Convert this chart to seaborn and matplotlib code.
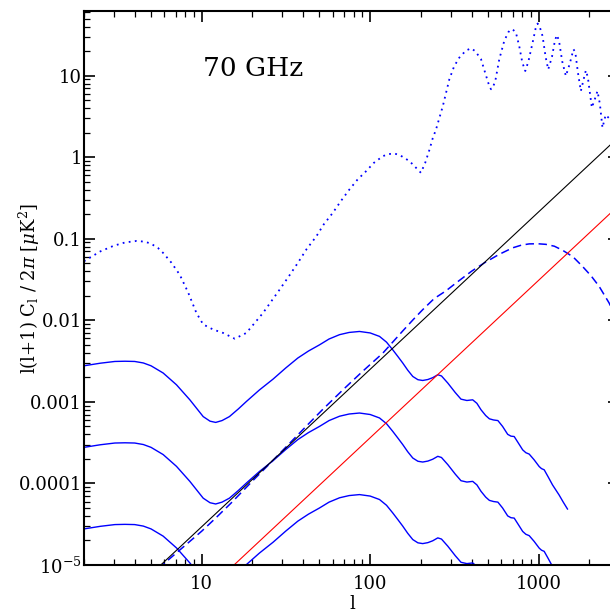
import matplotlib
matplotlib.use("Agg")
import matplotlib.pyplot as plt
import seaborn as sns
from matplotlib.ticker import LogLocator, NullFormatter

# ---------------- data ----------------
dotted_l = [2, 2.5, 3, 3.5, 4.1, 4.6, 5.0, 5.5, 5.9, 6.6, 7.4, 8.3, 9.3, 10.2, 11.7, 13.4,
            15.7, 18.4, 23.1, 29.0, 33, 37.2, 42, 47.9, 53, 60, 67, 75.3, 84, 94.6, 105,
            119, 128, 139, 150, 171, 185, 200, 212, 225, 235, 246, 270, 295, 315, 338,
            370, 397, 420, 455, 488, 510, 522, 535, 553, 584, 625, 660, 685, 710, 733,
            767, 800, 833, 870, 921, 960, 986, 1010, 1055, 1100, 1140, 1200, 1250, 1283,
            1320, 1380, 1451, 1530, 1610, 1650, 1710, 1781, 1850, 1907, 1960, 2070, 2160,
            2235, 2310, 2393, 2500, 2621, 3000]
dotted_v = [0.053, 0.070, 0.082, 0.090, 0.094, 0.092, 0.087, 0.077, 0.067, 0.051, 0.0363,
            0.022, 0.0123, 0.0089, 0.0077, 0.0070, 0.00595, 0.0070, 0.0123, 0.0238, 0.035,
            0.0506, 0.075, 0.107, 0.15, 0.208, 0.29, 0.402, 0.53, 0.674, 0.85, 1.03, 1.09,
            1.11, 1.06, 0.896, 0.76, 0.644, 0.85, 1.24, 1.7, 2.19, 4.24, 9.0, 13.0, 16.6,
            20.3, 21.6, 20.0, 15.9, 9.9, 7.4, 6.8, 7.2, 8.6, 15.9, 26.6, 34.0, 37.0, 36.0,
            33.7, 23.0, 14.5, 11.4, 15.0, 25.4, 38.0, 43.5, 41.0, 30.6, 17.0, 11.9, 17.0,
            27.0, 31.4, 27.0, 15.0, 9.9, 14.0, 21.0, 19.5, 11.0, 6.47, 9.0, 11.6, 9.5, 4.05,
            5.2, 6.47, 4.5, 2.30, 3.3, 3.0, 1.8]

dashed_l = [2, 4, 6, 8, 10, 12, 15, 20, 25, 30, 40, 52, 70, 90, 119, 156, 180, 205, 240,
            282, 324, 400, 476, 580, 700, 790, 879, 990, 1104, 1240, 1387, 1600, 1820,
            2050, 2286, 2621, 3000]
dashed_v = [1.2e-6, 4.6e-6, 1.05e-5, 1.75e-5, 2.6e-5, 3.7e-5, 5.8e-5, 1.07e-4, 1.7e-4,
            2.5e-4, 4.6e-4, 8.0e-4, 1.45e-3, 2.36e-3, 3.97e-3, 7.4e-3, 0.0102, 0.0135,
            0.0185, 0.023, 0.0288, 0.0400, 0.0506, 0.064, 0.0773, 0.0835, 0.0865, 0.0868,
            0.0854, 0.0810, 0.0723, 0.060, 0.0459, 0.0350, 0.0261, 0.0163, 0.009]

solid_l = [2, 2.5, 3.05, 3.5, 4.0, 4.5, 5.0, 5.9, 7.08, 8.5, 10.2, 11.2, 12.1, 13.2, 14.6,
           16.5, 18.4, 22, 26.5, 31.5, 37.2, 43, 50, 57, 65.8, 75, 86.4, 100, 113.6, 125,
           136, 146, 156, 167, 179, 192, 205, 220, 235, 252, 265, 289, 320, 346, 375, 406,
           430, 455, 485, 510, 540, 573, 611, 655, 685, 716, 760, 804, 840, 879, 940,
           1008, 1040, 1079, 1140, 1209, 1324, 1400, 1486]
solid_v = [2.77e-3, 2.98e-3, 3.13e-3, 3.15e-3, 3.13e-3, 3.0e-3, 2.77e-3, 2.26e-3, 1.62e-3,
           1.06e-3, 6.6e-4, 5.8e-4, 5.6e-4, 5.9e-4, 6.6e-4, 8.2e-4, 1.01e-3, 1.4e-3, 1.9e-3,
           2.6e-3, 3.45e-3, 4.2e-3, 5.0e-3, 5.9e-3, 6.67e-3, 7.1e-3, 7.3e-3, 7.0e-3, 6.35e-3,
           5.4e-3, 4.36e-3, 3.6e-3, 3.0e-3, 2.45e-3, 2.05e-3, 1.87e-3, 1.83e-3, 1.88e-3,
           1.98e-3, 2.15e-3, 2.08e-3, 1.70e-3, 1.30e-3, 1.08e-3, 1.04e-3, 1.06e-3, 9.6e-4,
           8.0e-4, 6.8e-4, 6.2e-4, 6.0e-4, 5.9e-4, 5.0e-4, 4.0e-4, 3.8e-4, 3.76e-4, 3.1e-4,
           2.58e-4, 2.38e-4, 2.29e-4, 1.95e-4, 1.61e-4, 1.52e-4, 1.47e-4, 1.2e-4, 9.6e-5,
           7.2e-5, 5.9e-5, 4.83e-5]
solid_scales = [1.0, 0.1, 0.01]

noise_l = [2, 3000]
noise_black = [1.32e-6, 1.78]
noise_red = [1.91e-7, 0.258]

xtick_vals = [10, 100, 1000]
xtick_labels = ["10", "100", "1000"]
ytick_vals = [1e-5, 1e-4, 1e-3, 1e-2, 0.1, 1, 10]
ytick_labels = [r"$10^{-5}$", "0.0001", "0.001", "0.01", "0.1", "1", "10"]

title_text = "70 GHz"
xlabel_text = "l"
ylabel_text = r"l(l+1) C$_{\rm l}$ / 2$\pi$ [$\mu$K$^2$]"

# ---------------- style ----------------
sns.set_theme(style="ticks")
plt.rcParams['font.family'] = ['DejaVu Serif']
plt.rcParams['mathtext.fontset'] = 'dejavuserif'

W, H = 610, 613
fig = plt.figure(figsize=(W / 100, H / 100), dpi=100)
fig.patch.set_facecolor("white")
ax = fig.add_axes([84 / W, 48 / H, 535 / W, 554 / H])
ax.set_facecolor("white")
ax.set_xscale("log")
ax.set_yscale("log")

common = dict(ax=ax, estimator=None, sort=False, legend=False)
sns.lineplot(x=dotted_l, y=dotted_v, color="blue", linewidth=1.3,
             linestyle=(0, (1, 2.4)), **common)
sns.lineplot(x=dashed_l, y=dashed_v, color="blue", linewidth=1.1,
             linestyle=(0, (5.5, 3)), **common)
for s in solid_scales:
    sns.lineplot(x=solid_l, y=[v * s for v in solid_v], color="blue",
                 linewidth=1.0, **common)
sns.lineplot(x=noise_l, y=noise_black, color="black", linewidth=0.8, **common)
sns.lineplot(x=noise_l, y=noise_red, color="red", linewidth=0.8, **common)

ax.set_xlim(2, 3000)
ax.set_ylim(1e-5, 62)

ax.set_xticks(xtick_vals, xtick_labels)
ax.set_yticks(ytick_vals, ytick_labels)
ax.xaxis.set_minor_locator(LogLocator(base=10, subs=range(2, 10), numticks=20))
ax.yaxis.set_minor_locator(LogLocator(base=10, subs=range(2, 10), numticks=20))
ax.xaxis.set_minor_formatter(NullFormatter())
ax.yaxis.set_minor_formatter(NullFormatter())

ax.tick_params(which="both", direction="in", top=True, right=True, colors="black")
ax.tick_params(which="major", length=8, width=1.2, labelsize=13)
ax.tick_params(which="minor", length=4.5, width=0.9)
ax.tick_params(axis="y", which="major", pad=1.5)
ax.tick_params(axis="x", which="major", pad=7)

for sp in ax.spines.values():
    sp.set_linewidth(1.5)
    sp.set_color("black")
    sp.set_visible(True)

ax.text(0.2224, 0.897, title_text, transform=ax.transAxes, fontsize=19,
        ha="left", va="center", color="black")

ax.set_xlabel(xlabel_text, fontsize=13, color="black")
ax.xaxis.set_label_coords(352 / W, 1 - 604 / H, transform=fig.transFigure)
ax.xaxis.label.set_verticalalignment("center")
ax.set_ylabel(ylabel_text, fontsize=13, color="black")
ax.yaxis.set_label_coords(29.5 / W, 1 - 288 / H, transform=fig.transFigure)
ax.yaxis.label.set_verticalalignment("center")

fig.savefig("out.png", dpi=100)
